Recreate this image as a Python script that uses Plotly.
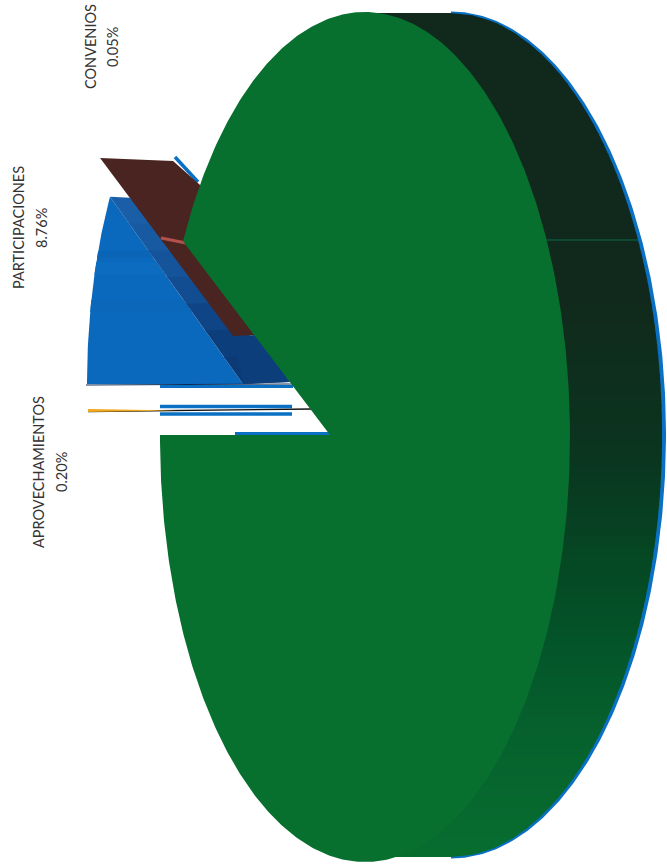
import numpy as np
import plotly.graph_objects as go

# ---- data -----------------------------------------------------------------
labels = ["CONVENIOS", "PARTICIPACIONES", "APROVECHAMIENTOS"]
percent_text = ["0.05%", "8.76%", "0.20%"]
convenios = 0.05
participaciones = 8.76
aprovechamientos = 0.20
principal = 100 - convenios - participaciones - aprovechamientos  # unlabelled green slice

# ---- projection of the tilted, rotated pie (geometry / style only) ---------
W, H = 667, 867
FRONT = dict(cx=365, cy=437, a=205, b=425)
BACK = dict(cx=450, cy=435, a=212, b=422)
GREEN, BLUE, RIM = "#08702f", "#0b69bd", "#0a70c4"
DEG_PER_PCT = 3.6


def ellipse_right(e, y):
    return e["cx"] + e["a"] * np.sqrt(np.clip(1 - ((y - e["cy"]) / e["b"]) ** 2, 0, 1))


def exploded_arc(e, apex, start, stop, n=500):
    """Slice outline: rays from an off-centre apex hitting the ellipse."""
    ax, ay = (apex[0] - e["cx"]) / e["a"], (apex[1] - e["cy"]) / e["b"]
    phi = np.radians(np.linspace(start, stop, n))
    dx, dy = np.cos(phi), np.sin(phi)
    dot = ax * dx + ay * dy
    t = -dot + np.sqrt(dot ** 2 + 1 - ax ** 2 - ay ** 2)
    xs = e["cx"] + e["a"] * (ax + t * dx)
    ys = e["cy"] + e["b"] * (ay + t * dy)
    return [apex[0], *xs, apex[0]], [apex[1], *ys, apex[1]]


def wedge(apex, rx, ry, start, stop, n=60):
    phi = np.radians(np.linspace(start, stop, n))
    return ([apex[0], *(apex[0] + rx * np.cos(phi)), apex[0]],
            [apex[1], *(apex[1] + ry * np.sin(phi)), apex[1]])


def edge_point(apex, rx, ry, angle):
    phi = np.radians(angle)
    return apex[0] + rx * np.cos(phi), apex[1] + ry * np.sin(phi)


def poly(fig, xs, ys, color):
    fig.add_trace(go.Scatter(x=xs, y=ys, mode="lines", fill="toself", fillcolor=color,
                             line=dict(width=0, color=color), hoverinfo="skip"))


def line(fig, xs, ys, color, width):
    fig.add_trace(go.Scatter(x=xs, y=ys, mode="lines", line=dict(color=color, width=width),
                             hoverinfo="skip"))


fig = go.Figure()

# blue rim behind the extruded side (right half only)
ty = np.linspace(-np.pi / 2, np.pi / 2, 300)
poly(fig, (BACK["cx"] + 1) + (BACK["a"] + 3) * np.cos(ty),
     BACK["cy"] + (BACK["b"] + 1.5) * np.sin(ty), RIM)

# extruded side, shaded by bands from top to bottom
stops_y = [13, 300, 460, 560, 640, 720, 857]
stops_rgb = np.array([[18, 40, 28], [17, 42, 28], [11, 54, 32], [5, 72, 36],
                      [4, 84, 41], [6, 96, 45], [8, 110, 48]])
edges = np.linspace(13, 857, 85)
for y0, y1 in zip(edges[:-1], edges[1:]):
    ym = (y0 + y1) / 2
    rgb = [int(np.interp(ym, stops_y, stops_rgb[:, i])) for i in range(3)]
    ys = np.linspace(y0, min(y1 + 1.5, 857), 6)
    xr = ellipse_right(BACK, ys)
    poly(fig, [FRONT["cx"], *xr, FRONT["cx"]], [ys[0], *ys, ys[-1]], f"rgb({rgb[0]},{rgb[1]},{rgb[2]})")

# seam between slices on the side
line(fig, [ellipse_right(FRONT, 240.0), ellipse_right(BACK, 240.0)], [240, 240], "#0a6b45", 1.2)

# gap angles follow the slice shares
gap_total = (convenios + participaciones + aprovechamientos) * DEG_PER_PCT
blue_angle = participaciones * DEG_PER_PCT

# PARTICIPACIONES: top face, faint scan stripes, and its wall
blue_apex = (243, 384)
blue_rx, blue_ry = 156, 358
bx, by = wedge(blue_apex, blue_rx, blue_ry, 180, 180 + blue_angle)
poly(fig, bx, by, BLUE)
far_blue = edge_point(blue_apex, blue_rx, blue_ry, 180 + blue_angle)
for y0, y1, col in [(251, 258, "#0b65b6"), (262, 275, "#0c6cc0"), (300, 312, "#0b67ba")]:
    ys = np.array([y0, y1], float)
    xl = blue_apex[0] - blue_rx * np.sqrt(1 - ((ys - blue_apex[1]) / blue_ry) ** 2)
    xr = np.interp(ys, [far_blue[1], blue_apex[1]], [far_blue[0], blue_apex[0]])
    poly(fig, [xl[0], xr[0], xr[1], xl[1]], [y0, y0, y1, y1], col)

# wall: darkens toward the apex
near_l, near_r = np.array(blue_apex, float), np.array(blue_apex, float) + (47, -2)
far_l, far_r = np.array(far_blue), np.array(far_blue) + (20, 1)
wall_cols = ["#1a5ea8", "#185aa2", "#15549b", "#124c91", "#0f4586", "#0c3e7c", "#0b3a76"]
cuts = np.linspace(0, 1, len(wall_cols) + 1)
for c0, c1, col in zip(cuts[:-1], cuts[1:], wall_cols):
    p = [far_l + (near_l - far_l) * c0, far_r + (near_r - far_r) * c0,
         far_r + (near_r - far_r) * min(c1 + 0.01, 1), far_l + (near_l - far_l) * min(c1 + 0.01, 1)]
    poly(fig, [q[0] for q in p], [q[1] for q in p], col)

line(fig, [175, 198], [157, 182], RIM, 3.5)
line(fig, [86, 292], [385, 384], "#0a2a55", 1)

# dark brown wall of the cut, with the dark blue showing below its near end
br_apex = (233, 336)
br_rx, br_ry = 157.5, 332
poly(fig, [br_apex[0], br_apex[0] + 26, near_r[0], near_l[0]],
     [br_apex[1], br_apex[1] - 1, near_r[1], near_l[1]], "#0c3e7c")
far_br = edge_point(br_apex, br_rx, br_ry, 180 + gap_total)
poly(fig, [br_apex[0], br_apex[0] + 22, far_br[0] + 100, far_br[0] + 73, far_br[0]],
     [br_apex[1], br_apex[1] - 1, far_br[1] + 27, far_br[1] + 3, far_br[1]], "#4a2421")
line(fig, [161, 186], [238, 243], "#b4504e", 3)

# thin slices seen edge-on
for x0, x1, y, w in [(160, 293, 386.5, 3), (160, 292, 406.5, 3.5), (160, 292, 414, 3.5), (235, 330, 433.5, 3)]:
    line(fig, [x0, x1], [y, y], RIM, w)
line(fig, [88, 312], [411.5, 409], "#101010", 1.3)
ox, oy = wedge((178, 410.5), 90, 240, 180 - aprovechamientos * DEG_PER_PCT / 2,
               180 + aprovechamientos * DEG_PER_PCT / 2)
poly(fig, ox, oy, "#f0a81e")

# main slice, top face
gx, gy = exploded_arc(FRONT, (330, 435), 180 + gap_total, 540)
poly(fig, gx, gy, GREEN)

# labels: rotated, one annotation per line
name_pos = [(90, 47), (18, 228), (38, 472)]
pct_pos = [(112, 47), (41, 228), (61, 472)]
for name, pct, np_, pp in zip(labels, percent_text, name_pos, pct_pos):
    for txt, (x, y) in ((name, np_), (pct, pp)):
        fig.add_annotation(x=x, y=y, text=txt, textangle=-90, showarrow=False,
                           xref="x", yref="y", font=dict(family="Lato", size=14.5, color="#333333"))

fig.update_layout(width=W, height=H, margin=dict(l=0, r=0, t=0, b=0), showlegend=False,
                  paper_bgcolor="white", plot_bgcolor="white",
                  xaxis=dict(range=[0, W], visible=False, fixedrange=True),
                  yaxis=dict(range=[H, 0], visible=False, fixedrange=True))
fig.write_html("out.html", config=dict(displayModeBar=False),
               post_script="document.body.style.margin='0';")
